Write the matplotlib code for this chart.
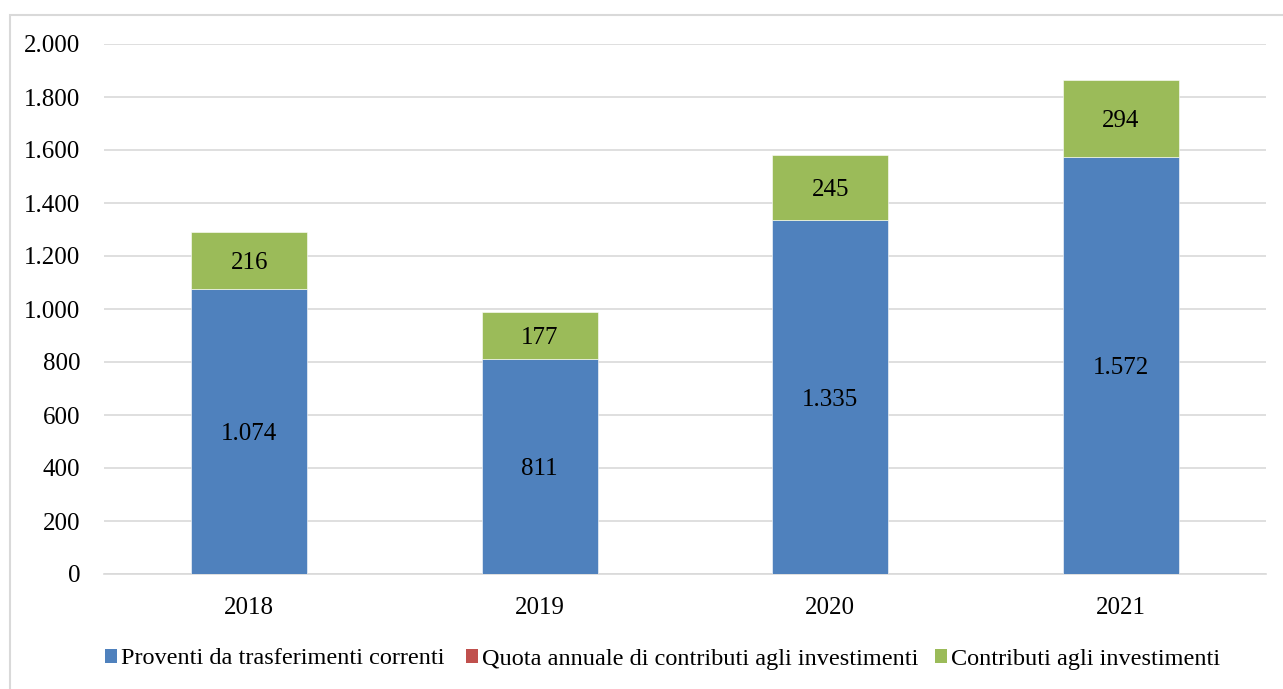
import matplotlib
matplotlib.use("Agg")
import matplotlib.pyplot as plt
from matplotlib.patches import Rectangle, Patch
from matplotlib.ticker import FuncFormatter, MultipleLocator

years = ["2018", "2019", "2020", "2021"]
proventi = [1074, 811, 1335, 1572]
quota = [0, 0, 0, 0]
contributi = [216, 177, 245, 294]
labels = ["Proventi da trasferimenti correnti",
          "Quota annuale di contributi agli investimenti",
          "Contributi agli investimenti"]
colors = ["#4F81BD", "#C0504D", "#9BBB59"]

plt.rcParams["font.family"] = ["Liberation Serif", "DejaVu Serif"]
FS = 18

W, H = 1283, 689
fig = plt.figure(figsize=(W / 100, H / 100), dpi=100)
fig.patches.append(Rectangle((10 / W, -0.05), 1.1, 1 - 15 / H + 0.05,
                             transform=fig.transFigure, fill=False,
                             edgecolor="#D9D9D9", linewidth=1.5))

ax = fig.add_axes([104 / W, 1 - 574 / H, (1266 - 104) / W, (574 - 44) / H])
x = range(len(years))
w = 0.4
ax.bar(x, proventi, w, color=colors[0], edgecolor="white", linewidth=0.4, zorder=3)
bottom2 = [p + q for p, q in zip(proventi, quota)]
ax.bar(x, quota, w, bottom=proventi, color=colors[1], linewidth=0, zorder=3)
ax.bar(x, contributi, w, bottom=bottom2, color=colors[2], edgecolor="white", linewidth=0.4, zorder=3)

def fmt(v):
    return f"{int(v):,}".replace(",", ".")

for i in x:
    ax.text(i, proventi[i] / 2, fmt(proventi[i]), ha="center", va="center_baseline",
            fontsize=FS, zorder=4)
    ax.text(i, bottom2[i] + contributi[i] / 2, fmt(contributi[i]), ha="center",
            va="center_baseline", fontsize=FS, zorder=4)

ax.set_xlim(-0.5, 3.5)
ax.set_ylim(0, 2000)
ax.yaxis.set_major_locator(MultipleLocator(200))
ax.yaxis.set_major_formatter(FuncFormatter(lambda v, p: fmt(v)))
ax.set_xticks(list(x))
ax.set_xticklabels(years)
ax.grid(axis="y", color="#D9D9D9", linewidth=1.2, zorder=0)
for s in ["top", "right", "left"]:
    ax.spines[s].set_visible(False)
ax.spines["bottom"].set_color("#D9D9D9")
ax.spines["bottom"].set_linewidth(1.2)
ax.tick_params(axis="both", length=0, labelsize=FS, colors="black")
ax.tick_params(axis="y", pad=17)
ax.tick_params(axis="x", pad=16.5)

# one legend entry per series, laid out along the bottom
legend_x = [105, 466, 935]
for lx, c, lab in zip(legend_x, colors, labels):
    fig.legend([Patch(facecolor=c, edgecolor="none")], [lab], loc="center left",
               bbox_to_anchor=(lx / W, 1 - 659 / H), frameon=False, fontsize=17.5,
               handlelength=0.5, handleheight=0.5, handletextpad=0.15,
               borderaxespad=0, borderpad=0)

fig.savefig("out.png", dpi=100)
